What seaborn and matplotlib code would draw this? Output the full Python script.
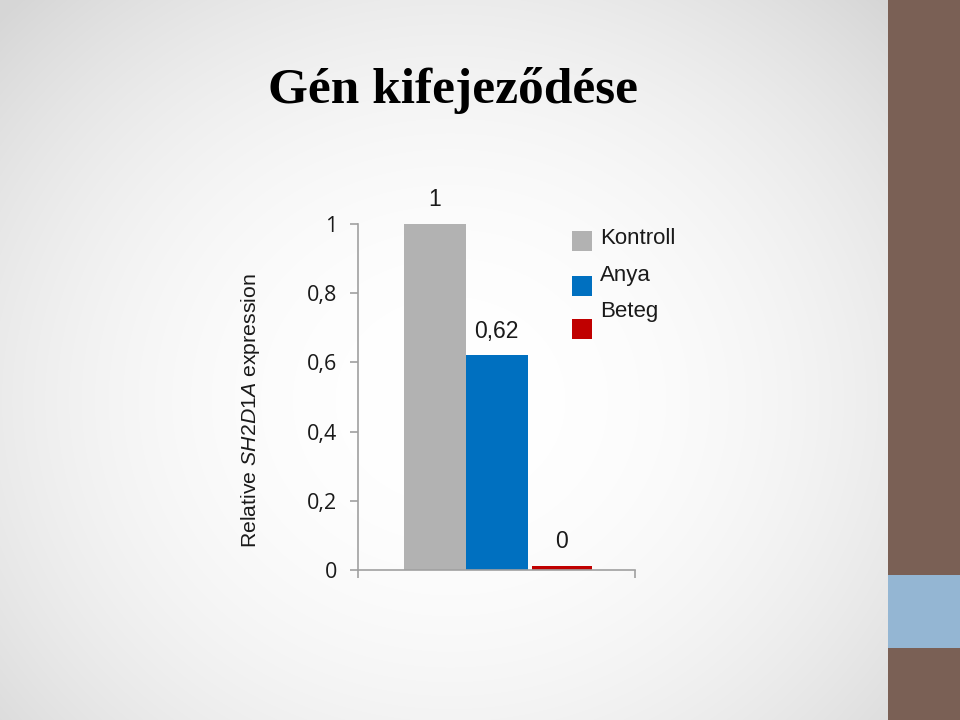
import numpy as np
import pandas as pd
import matplotlib
matplotlib.use("Agg")
import matplotlib.pyplot as plt
from matplotlib.patches import Rectangle
from matplotlib.lines import Line2D
from matplotlib.path import Path
import seaborn as sns

# ---- data ----
categories = ["Kontroll", "Anya", "Beteg"]
values = [1.0, 0.62, 0.012]
value_labels = ["1", "0,62", "0"]
colors = ["#b2b2b2", "#0070c0", "#c00000"]
yticks = [0, 0.2, 0.4, 0.6, 0.8, 1.0]
ytick_labels = ["0", "0,2", "0,4", "0,6", "0,8", "1"]
title = "Gén kifejeződése"
ylabel = r"Relative $\mathit{SH2D1A}$ expression"

sns.set_theme(style="white")
plt.rcParams["font.family"] = ["Liberation Sans", "DejaVu Sans"]
plt.rcParams["mathtext.fontset"] = "custom"
plt.rcParams["mathtext.it"] = "Liberation Sans:italic"
plt.rcParams["mathtext.rm"] = "Liberation Sans"

W, H = 960, 720
fig = plt.figure(figsize=(W / 100, H / 100), dpi=100)

# background radial gradient
bg = fig.add_axes([0, 0, 1, 1])
yy, xx = np.mgrid[0:H, 0:W]
cx, cy = 450, 400
r = np.sqrt(((xx - cx) / 620.0) ** 2 + ((yy - cy) / 560.0) ** 2)
shade = 1.0 - 0.16 * np.clip(r, 0, 1) ** 2.2
img = np.dstack([shade, shade, shade])
bg.imshow(img, extent=[0, W, H, 0], aspect="auto", interpolation="bilinear")
bg.set_xlim(0, W)
bg.set_ylim(H, 0)
bg.axis("off")
bg.add_patch(Rectangle((888, 0), W - 888, H, color="#7a6055", lw=0))
bg.add_patch(Rectangle((888, 575), W - 888, 73, color="#94b6d3", lw=0))

fig.text(453 / W, 1 - 90 / H, title, ha="center", va="center",
         fontsize=37, fontweight="bold", family=["Liberation Serif", "DejaVu Serif"],
         color="black")

# main chart
ax = fig.add_axes([358 / W, 1 - 570 / H, (635 - 358) / W, (570 - 224) / H])
ax.patch.set_alpha(0)
df = pd.DataFrame({"cat": categories, "val": values})
sns.barplot(data=df, x="cat", y="val", hue="cat", palette=colors,
            width=1.0, ax=ax, legend=False, saturation=1, linewidth=0)
# small gap before the third bar
p3 = ax.patches[2]
p3.set_x(p3.get_x() + 0.06)
p3.set_width(p3.get_width() - 0.02)

for i, (v, lab) in enumerate(zip(values, value_labels)):
    ax.annotate(lab, (i + (0.05 if i == 2 else 0), v), xytext=(0, 9),
                textcoords="offset points", ha="center", va="bottom",
                fontsize=16.5, color="#1a1a1a")

ax.set_xlim(-1.24, 3.23)
ax.set_ylim(0, 1)
ax.set_yticks(yticks)
ax.set_yticklabels(ytick_labels, fontsize=15.5, color="#1a1a1a",
                   family=["Open Sans", "DejaVu Sans"])
ax.set_xticks([-1.24, 3.23])
ax.set_xticklabels(["", ""])
ax.tick_params(axis="both", direction="out", length=6, width=1.2,
               color="#a0a0a0", left=True, bottom=True)
ax.tick_params(axis="y", pad=9)
for s in ["top", "right"]:
    ax.spines[s].set_visible(False)
for s in ["left", "bottom"]:
    ax.spines[s].set_color("#a0a0a0")
    ax.spines[s].set_linewidth(1.2)
ax.set_xlabel("")
ax.set_ylabel("")
fig.text(250 / W, 1 - 411 / H, ylabel, rotation=90, ha="center", va="center",
         fontsize=15.3, color="#1a1a1a")


def square_marker(drop_px, half_px=10):
    d, s = drop_px, half_px
    verts = [(-s, -d - s), (s, -d - s), (s, -d + s), (-s, -d + s), (-s, -d - s)]
    path = Path(verts, [Path.MOVETO, Path.LINETO, Path.LINETO, Path.LINETO, Path.CLOSEPOLY])
    size_pt = 2 * (d + s) * 72 / 100
    return path, size_pt


handles = []
for c, drop in zip(colors, [5, 13, 20]):
    path, ms = square_marker(drop)
    handles.append(Line2D([0], [0], marker=path, linestyle="none", markersize=ms,
                          markerfacecolor=c, markeredgecolor=c, markeredgewidth=0))
leg = ax.legend(handles, categories, loc="upper left",
                bbox_to_anchor=(568 / W, 1 - 228 / H), bbox_transform=fig.transFigure,
                frameon=False, fontsize=16, labelspacing=0.70,
                handletextpad=0.13, handlelength=1.3, borderaxespad=0,
                borderpad=0)
for t in leg.get_texts():
    t.set_color("#1a1a1a")

fig.savefig("out.png", dpi=100)
